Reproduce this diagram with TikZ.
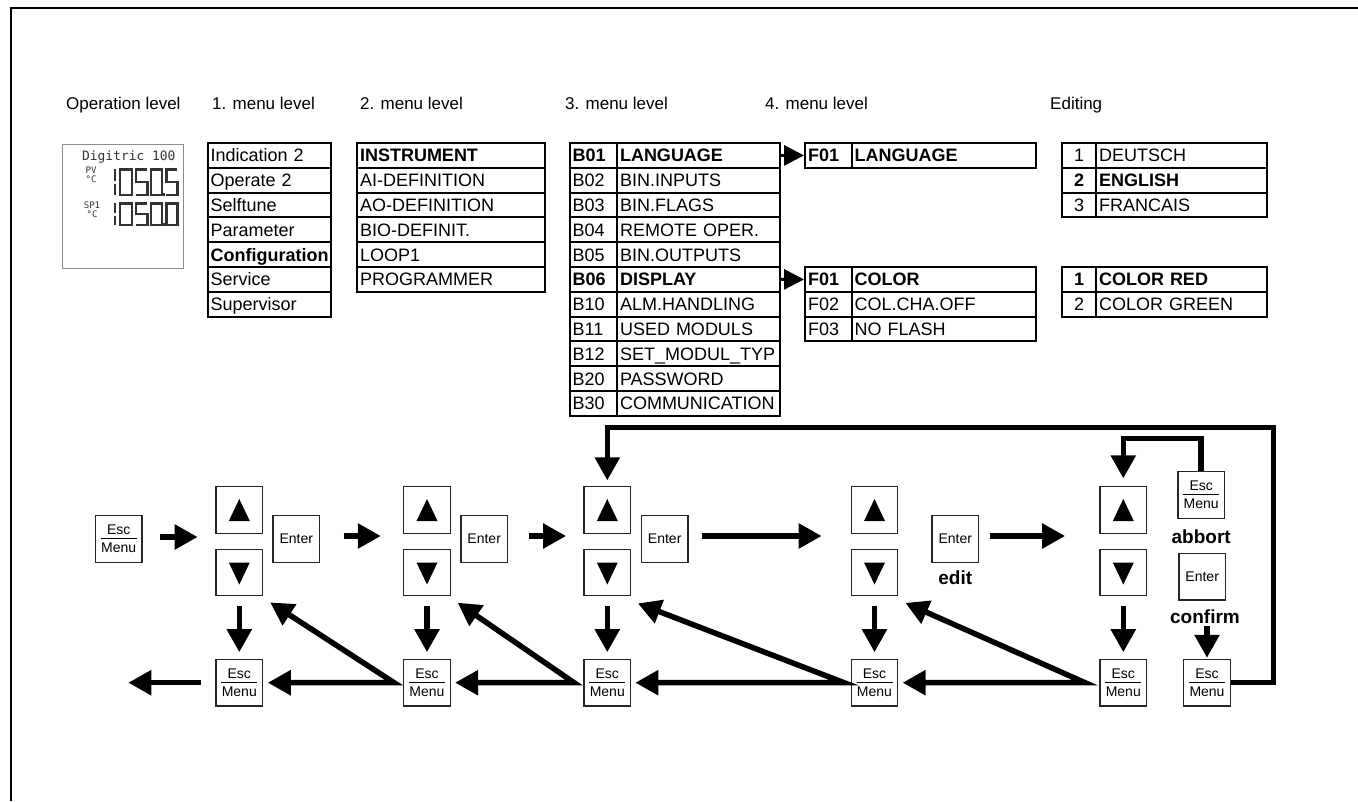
\documentclass[tikz,border=0pt]{standalone}
\usepackage{fontspec}
\setmainfont{Liberation Sans}
\setmonofont{DejaVu Sans Mono}
\usetikzlibrary{arrows.meta,calc}
\newcommand\escmenu{\vbox{\hbox to 36pt{\hss Esc\hss}\kern3.3pt\hrule height 1pt\kern3.9pt\hbox to 36pt{\hss Menu\hss}}}
\newcommand\segZero[4]{\draw[seg] (#1,#2) rectangle (#3,#4);}
\newcommand\segFive[4]{\draw[seg] (#3,#2) -- (#1,#2) -- (#1,{(#2+#4)/2}) -- (#3,{(#2+#4)/2}) -- (#3,#4) -- (#1,#4);}
\newcommand\segOne[3]{\draw[seg] (#1,#2) -- (#1,{(#2+#3)/2-1.5}) (#1,{(#2+#3)/2+1.5}) -- (#1,#3);}
\newcommand\segDot[2]{\fill[black!80] (#1,#2) rectangle ++(2.8,-2.8);}
\begin{document}
\begin{tikzpicture}[x=1pt,y=-1pt,
  hdr/.style={anchor=base west, inner sep=0pt, font=\fontsize{17}{19}\selectfont},
  cell/.style={draw, line width=2pt, rectangle, anchor=north west, minimum height=24.8pt,
    inner xsep=3pt, inner ysep=0pt, text height=12.9pt, text depth=0pt, align=left,
    font=\fontsize{18}{20}\selectfont},
  btn/.style={draw=black!85, line width=1.2pt, minimum size=46.6pt, inner sep=0pt, fill=white,
    font=\fontsize{14}{16}\selectfont},
  upbtn/.style={btn, path picture={\fill[black] ([yshift=11pt]path picture bounding box.center) -- ++(10.5,22) -- ++(-21,0) -- cycle;}},
  dnbtn/.style={btn, path picture={\fill[black] ([yshift=-12pt]path picture bounding box.center) -- ++(10.5,-22) -- ++(-21,0) -- cycle;}},
  lbl/.style={anchor=base, inner sep=0pt, font=\bfseries\fontsize{19}{21}\selectfont},
  barrow/.style={line width=5.5pt, line join=miter, -{Triangle[length=23pt,width=24pt]}},
  vpair/.style={line width=5.5pt, line join=miter, {Triangle[length=23pt,width=24pt]}-{Triangle[length=23pt,width=24pt]}},
  sarrow/.style={line width=3pt, -{Triangle[length=20pt,width=20pt]}},
  seg/.style={draw=black!80, line width=2.4pt}]
\useasboundingbox (0,0) rectangle (1358,801);
\draw[line width=1.5pt] (11,801) -- (11,8) -- (1358,8);

% headers
\node[hdr] (h0) at (66,109) {Operation level};
\node[hdr] (h1) at (212,109) {1. menu level};
\node[hdr] (h2) at (360,109) {2. menu level};
\node[hdr] (h3) at (565,109) {3. menu level};
\node[hdr] (h4) at (765,109) {4. menu level};
\node[hdr] (h5) at (1050,109) {Editing};

% display
\node[draw=black!45, line width=1.2pt, minimum width=121pt, minimum height=124pt, anchor=north west, inner sep=0pt] (disp) at (62,144) {};
\node[anchor=base west, inner sep=0pt, text=black!80, font=\ttfamily\fontsize{12.9}{13}\selectfont] (dtitle) at (82,160) {Digitric 100};
\node[anchor=north, inner sep=0pt, align=center, text=black!80, font=\ttfamily\fontsize{9}{9.5}\selectfont] (dpv) at (91,166.5) {PV\\°C};
\node[anchor=north, inner sep=0pt, align=center, text=black!80, font=\ttfamily\fontsize{9}{9.5}\selectfont] (dsp) at (92,201.5) {SP1\\°C};
\segOne{115}{169.3}{195}
\segZero{120}{169.3}{131.7}{195}
\segFive{136}{169.3}{147.3}{195}
\segZero{150.7}{169.3}{161.7}{195}
\segDot{162.6}{196.2}
\segFive{166.3}{169.3}{177.3}{195}
\segOne{115}{203.3}{225}
\segZero{120}{203.3}{131.7}{225}
\segFive{136}{203.3}{147.3}{225}
\segZero{150.7}{203.3}{161.7}{225}
\segDot{162.6}{226.2}
\segZero{166.3}{203.3}{177.3}{225}

% tables
\foreach \t [count=\i] in {Indication 2,Operate 2,Selftune,Parameter,\textbf{Configuration},Service,Supervisor}
  \node[cell, text width=117.3pt] (ta\i) at (206.7,{142+24.8*(\i-1)}) {\t};
\foreach \t [count=\i] in {\textbf{INSTRUMENT},AI-DEFINITION,AO-DEFINITION,BIO-DEFINIT.,LOOP1,PROGRAMMER}
  \node[cell, text width=182pt] (tb\i) at (356,{142+24.8*(\i-1)}) {\t};
\foreach \c/\t [count=\i] in {\textbf{B01}/\textbf{LANGUAGE},B02/BIN.INPUTS,B03/BIN.FLAGS,B04/REMOTE OPER.,B05/BIN.OUTPUTS,\textbf{B06}/\textbf{DISPLAY},B10/ALM.HANDLING,B11/USED MODULS,B12/SET\_MODUL\_TYP,B20/PASSWORD,B30/COMMUNICATION}{
  \node[cell, text width=41.3pt] (tcc\i) at (568.7,{142+24.8*(\i-1)}) {\c};
  \node[cell, text width=156.7pt] (tcn\i) at (616,{142+24.8*(\i-1)}) {\t};
}
\node[cell, text width=40.7pt] (tdc1) at (804,142) {\textbf{F01}};
\node[cell, text width=178.3pt] (tdn1) at (850.7,142) {\textbf{LANGUAGE}};
\foreach \c/\t [count=\i] in {\textbf{F01}/\textbf{COLOR},F02/COL.CHA.OFF,F03/NO FLASH}{
  \node[cell, text width=40.7pt] (tec\i) at (804,{266+24.8*(\i-1)}) {\c};
  \node[cell, text width=178.3pt] (ten\i) at (850.7,{266+24.8*(\i-1)}) {\t};
}
\foreach \c/\t [count=\i] in {1/DEUTSCH,\textbf{2}/\textbf{ENGLISH},3/FRANCAIS}{
  \node[cell, text width=28pt, align=center] (tfc\i) at (1061,{142+24.8*(\i-1)}) {\c};
  \node[cell, text width=165pt] (tfn\i) at (1095,{142+24.8*(\i-1)}) {\t};
}
\foreach \c/\t [count=\i] in {\textbf{1}/\textbf{COLOR RED},2/COLOR GREEN}{
  \node[cell, text width=28pt, align=center] (tgc\i) at (1061,{266+24.8*(\i-1)}) {\c};
  \node[cell, text width=165pt] (tgn\i) at (1095,{266+24.8*(\i-1)}) {\t};
}
\draw[sarrow] (tcn1.east) -- (tdc1.west);
\draw[sarrow] (tcn6.east) -- (tec1.west);

% buttons
\node[btn] (esc0) at (118.7,539) {\escmenu};
\node[upbtn] (up1) at (239.3,510) {};
\node[dnbtn] (dn1) at (239.3,572.5) {};
\node[btn] (ent1) at (296.3,539) {Enter};
\node[btn] (esc1) at (239.3,682.7) {\escmenu};
\node[upbtn] (up2) at (427,510) {};
\node[dnbtn] (dn2) at (427,572.5) {};
\node[btn] (ent2) at (484.2,539) {Enter};
\node[btn] (esc2) at (427,682.7) {\escmenu};
\node[upbtn] (up3) at (607.3,510) {};
\node[dnbtn] (dn3) at (607.3,572.5) {};
\node[btn] (ent3) at (664.7,539) {Enter};
\node[btn] (esc3) at (607.3,682.7) {\escmenu};
\node[upbtn] (up4) at (874.5,510) {};
\node[dnbtn] (dn4) at (874.5,572.5) {};
\node[btn] (ent4) at (955.3,539) {Enter};
\node[btn] (esc4) at (874.5,682.7) {\escmenu};
\node[upbtn] (up5) at (1123.3,510) {};
\node[dnbtn] (dn5) at (1123.3,572.5) {};
\node[btn] (escA) at (1201.2,495) {\escmenu};
\node[btn] (entC) at (1202.2,576.7) {Enter};
\node[btn] (esc5) at (1123.3,682.7) {\escmenu};
\node[btn] (escF) at (1207,682.7) {\escmenu};

\node[lbl] (ledit) at (955.3,584) {edit};
\node[lbl] (labb) at (1201.2,543) {abbort};
\node[lbl] (lconf) at (1205,623) {confirm};

% forward arrows
\draw[barrow] ($(esc0.east)+(17.3,-2)$) -- ($(esc0.east -| up1.west)+(-17.7,-2)$);
\draw[barrow] ($(ent1.east)+(23.4,-3)$) -- ($(ent1.east -| up2.west)+(-22.3,-3)$);
\draw[barrow] ($(ent2.east)+(21,-3)$) -- ($(ent2.east -| up3.west)+(-17.3,-3)$);
\draw[barrow] ($(ent3.east)+(13.3,-3)$) -- ($(ent3.east -| up4.west)+(-29,-3)$);
\draw[barrow] ($(ent4.east)+(10.7,-3)$) -- ($(ent4.east -| up5.west)+(-34.3,-3)$);

% down arrows
\foreach \k in {1,...,5}
  \draw[barrow, shorten <=9.3pt, shorten >=6.6pt] (dn\k.south) -- (esc\k.north);
\draw[barrow, shorten <=2.5pt, shorten >=1pt] (lconf.south -| escF.north) -- (escF.north);

% back arrows
\coordinate (exit) at (128.3,682.7);
\draw[barrow] ($(esc1.west)+(-14.3,0)$) -- (exit);
\coordinate (v2) at ($(esc2.west)+(-9,0)$);
\coordinate (v3) at ($(esc3.west)+(-9.3,0)$);
\coordinate (v4) at ($(esc4.west)+(-6.5,0)$);
\coordinate (v5) at ($(esc5.west)+(-14.3,0)$);
\draw[vpair] ($(esc1.east)+(4.6,0)$) -- (v2) -- ($(dn1.south east)+(7,6)$);
\draw[vpair] ($(esc2.east)+(4.2,0)$) -- (v3) -- ($(dn2.south east)+(6.7,6.3)$);
\draw[vpair] ($(esc3.east)+(4.1,0)$) -- (v4) -- ($(dn3.south east)+(6.7,7)$);
\draw[vpair] ($(esc4.east)+(4.2,0)$) -- (v5) -- ($(dn4.south east)+(7,6.5)$);

% loops
\coordinate (loopc) at (1273.3,427.3);
\draw[barrow] (escF.east) -| (loopc) -| ($(up3.north)+(0,-5.7)$);
\draw[barrow] (escA.north) |- ($(up5.north)+(0,-47.7)$) -- ($(up5.north)+(0,-7.7)$);
\end{tikzpicture}
\end{document}
